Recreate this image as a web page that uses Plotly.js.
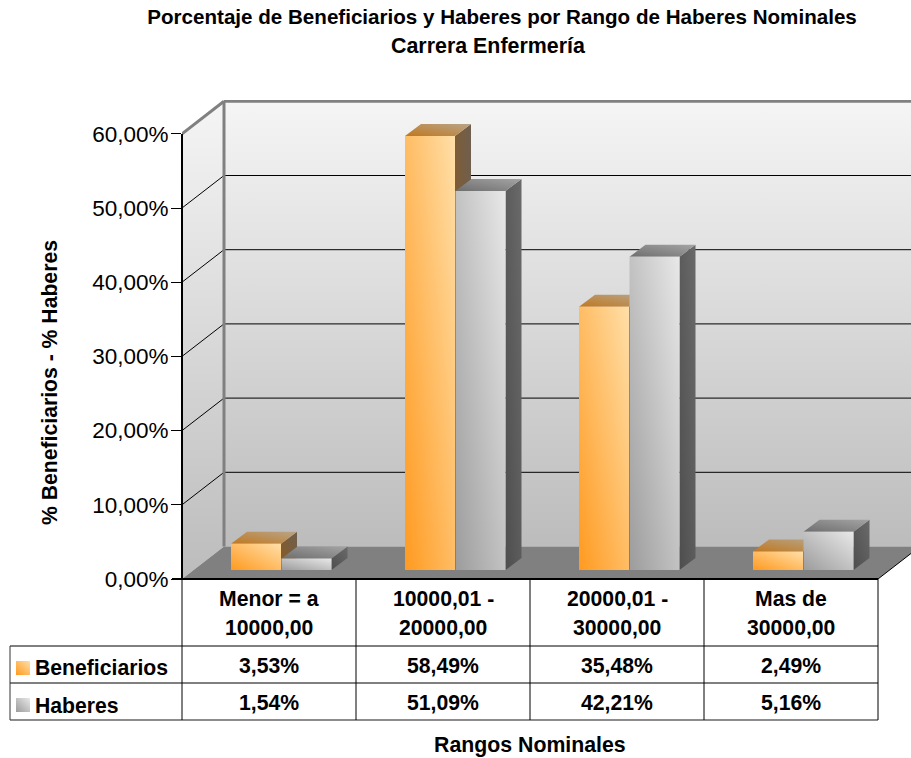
<!DOCTYPE html>
<html>
<head>
<meta charset="utf-8">
<script src="https://cdn.plot.ly/plotly-3.0.1.min.js"></script>
<style>html,body{margin:0;padding:0;background:#fff;overflow:hidden}</style>
</head>
<body>
<div id="chart" style="width:911px;height:758px"></div>
<script>
const categories = ["Menor = a<br>10000,00", "10000,01 -<br>20000,00", "20000,01 -<br>30000,00", "Mas de<br>30000,00"];
const beneficiarios = [3.53, 58.49, 35.48, 2.49];
const haberes = [1.54, 51.09, 42.21, 5.16];
const tickVals = [0, 10, 20, 30, 40, 50, 60];
const tickText = ["0,00%", "10,00%", "20,00%", "30,00%", "40,00%", "50,00%", "60,00%"];
const seriesNames = ["Beneficiarios", "Haberes"];

const FONT = "Liberation Sans, Arial, sans-serif";
const W = 911, H = 758, L = 182, B = 579, T = 100;
const UX = 174, UY = 7.42;
const px = x => (x - L) / (W - L);
const py = y => (B - y) / (B - T);
const wallDX = 42 / UX, wallDY = 32.5 / UY;
const barDX = 16 / UX, barDY = 12 / UY, barBase = 9 / UY;
const xMax = (W - L) / UX, yMax = (B - T) / UY;
const barW = 50 / UX, off1 = 49 / UX, off2 = 99.5 / UX;

const shapes = [];
const grads = {};
function poly(pts, fill, grad) {
  const path = "M" + pts.map(p => p[0] + "," + p[1]).join("L") + "Z";
  shapes.push({type: "path", path, xref: "x", yref: "y", fillcolor: fill, line: {width: 0}, layer: "below"});
  if (grad) grads[shapes.length - 1] = grad;
}
function seg(x0, y0, x1, y1, color, width, ref) {
  shapes.push({type: "line", x0, y0, x1, y1, xref: ref ? "paper" : "x", yref: ref ? "paper" : "y",
    line: {color, width}, layer: ref === "above" ? "above" : "below"});
}
// walls
poly([[0, 0], [wallDX, wallDY], [wallDX, 60 + wallDY], [0, 60]], "#e0e0e0", "wall");
poly([[wallDX, wallDY], [xMax + 1, wallDY], [xMax + 1, 60 + wallDY], [wallDX, 60 + wallDY]], "#e0e0e0", "wall");
// floor
poly([[0, 0], [4, 0], [4 + wallDX, wallDY], [xMax + 1, wallDY], [wallDX, wallDY]], "#808080");
// grid lines
tickVals.slice(1, -1).forEach(v => {
  seg(0, v, wallDX, v + wallDY, "#000", 1);
  seg(wallDX, v + wallDY, xMax + 1, v + wallDY, "#000", 1);
});
// wall frame
seg(0, 60, wallDX, 60 + wallDY, "#808080", 3);
seg(wallDX, 60 + wallDY, xMax + 1, 60 + wallDY, "#808080", 3);
seg(wallDX, wallDY, wallDX, 60 + wallDY, "#808080", 3);
seg(4, 0, 4 + 0.19, 0 + 0.19 * wallDY / wallDX, "#000", 1);
// bar tops and sides
function faces(vals, off, sideG, topG, side, top) {
  vals.forEach((v, i) => {
    const x0 = i + off, x1 = x0 + barW, y1 = barBase + v;
    poly([[x1, barBase], [x1 + barDX, barBase + barDY], [x1 + barDX, y1 + barDY], [x1, y1]], side, sideG);
    poly([[x0, y1], [x1, y1], [x1 + barDX, y1 + barDY], [x0 + barDX, y1 + barDY]], top, topG);
  });
}
faces(beneficiarios, off1, "bSide", "bTop", "#7a6040", "#b88840");
faces(haberes, off2, "hSide", "hTop", "#5a5a5a", "#8c8c8c");

// table frame
const pline = (x0, y0, x1, y1, c, w) => seg(px(x0), py(y0), px(x1), py(y1), c || "#000", w || 1, "above");
pline(182, 579, 182, 134, "#000", 2);
pline(172, 579, 878, 579, "#000", 2);
pline(10, 646, 878, 646);
pline(10, 683, 878, 683);
pline(10, 720, 878, 720, "#666", 1.5);
pline(10, 646, 10, 720, "#333", 1);
[182, 356, 530, 704, 878].forEach(x => pline(x, 579, x, 720));
// legend keys
function key(y, grad, fill) {
  shapes.push({type: "rect", xref: "paper", yref: "paper", x0: px(16), x1: px(30), y0: py(y), y1: py(y + 14),
    fillcolor: fill, line: {width: 0}, layer: "above"});
  grads[shapes.length - 1] = grad;
}
key(661, "bFront", "#ffc070");
key(698, "hFront", "#c0c0c0");

// table text
const fmt = v => v.toFixed(2).replace(".", ",") + "%";
const annotations = [];
const note = (text, x, y, anchor, size, angle) => annotations.push({text, xref: "paper", yref: "paper",
  x: px(x), y: py(y), xanchor: anchor || "center", yanchor: "middle", showarrow: false, textangle: angle || 0,
  font: {family: FONT, size: size || 21.2, color: "#000", weight: "bold"}, align: "center"});
categories.forEach((c, i) => {
  const cx = 269 + i * UX;
  const lines = c.split("<br>");
  note(lines[0], cx, 598);
  note(lines[1], cx, 627);
  note(fmt(beneficiarios[i]), cx, 665);
  note(fmt(haberes[i]), cx, 702);
});
note(seriesNames[0], 33, 667, "left");
note(seriesNames[1], 33, 705, "left");
note("Rangos Nominales", 529.5, 744.5, "center", 21.3);
note("% Beneficiarios - % Haberes", 50, 383, "center", 21.2, -90);
note("Carrera Enfermería", 488.5, 46, "center", 21.4);

const barTrace = (name, vals, off, color) => ({
  type: "bar", name, x: [0, 1, 2, 3], y: vals, base: barBase, width: barW, offset: off,
  marker: {color, line: {width: 0}}, hoverinfo: "name+y", cliponaxis: false
});
const traces = [
  barTrace(seriesNames[0], beneficiarios, off1, "#ffc070"),
  barTrace(seriesNames[1], haberes, off2, "#c0c0c0")
];
const layout = {
  width: W, height: H, showlegend: false, barmode: "overlay",
  paper_bgcolor: "#fff", plot_bgcolor: "rgba(0,0,0,0)",
  margin: {l: L, r: 0, t: T, b: H - B, pad: 0},
  font: {family: FONT, color: "#000"},
  title: {text: "Porcentaje de Beneficiarios y Haberes por Rango de Haberes Nominales",
    x: 502 / W, xanchor: "center", y: 1 - 17 / H, yanchor: "middle",
    font: {family: FONT, size: 20.6, weight: "bold", color: "#000"}},
  xaxis: {range: [0, xMax], showgrid: false, zeroline: false, showline: false, showticklabels: false, ticks: ""},
  yaxis: {range: [0, yMax], tickmode: "array", tickvals: tickVals, ticktext: tickText, ticks: "outside", ticklen: 10,
    tickcolor: "#000", tickwidth: 1, showgrid: false, zeroline: false, showline: false, ticklabelstandoff: -2,
    tickfont: {family: FONT, size: 22.5, color: "#000"}},
  shapes, annotations
};

const gradDefs = {
  wall:   [[0, 0, 0, 1], ["#f5f5f5", "#bcbcbc"]],
  bFront: [[0, 1, 1, 0], ["#ff9a20", "#ffdfa8"]],
  hFront: [[0, 1, 1, 0], ["#9c9c9c", "#e8e8e8"]],
  bSide:  [[0, 1, 1, 0], ["#8a5a20", "#6e5f50"]],
  hSide:  [[0, 1, 1, 0], ["#4e4e4e", "#6a6a6a"]],
  bTop:   [[0, 1, 1, 0], ["#c07820", "#b8a488"]],
  hTop:   [[0, 1, 1, 0], ["#6e6e6e", "#a4a4a4"]]
};

Plotly.newPlot("chart", traces, layout, {displayModeBar: false}).then(gd => {
  const NS = "http://www.w3.org/2000/svg";
  const svg = gd.querySelector("svg.main-svg");
  const defs = svg.querySelector("defs") || svg.insertBefore(document.createElementNS(NS, "defs"), svg.firstChild);
  Object.entries(gradDefs).forEach(([id, [c, cols]]) => {
    const g = document.createElementNS(NS, "linearGradient");
    g.setAttribute("id", "grad-" + id);
    ["x1", "y1", "x2", "y2"].forEach((a, i) => g.setAttribute(a, c[i]));
    cols.forEach((col, i) => {
      const s = document.createElementNS(NS, "stop");
      s.setAttribute("offset", i);
      s.setAttribute("stop-color", col);
      g.appendChild(s);
    });
    defs.appendChild(g);
  });
  gd.querySelectorAll("path[data-index]").forEach(p => {
    const name = grads[+p.getAttribute("data-index")];
    if (name) p.style.fill = "url(#grad-" + name + ")";
  });
  gd.querySelectorAll(".trace.bars").forEach((t, i) => {
    t.querySelectorAll(".point path").forEach(p => {
      p.style.fill = "url(#grad-" + (i === 0 ? "bFront" : "hFront") + ")";
    });
  });
});
</script>
</body>
</html>
